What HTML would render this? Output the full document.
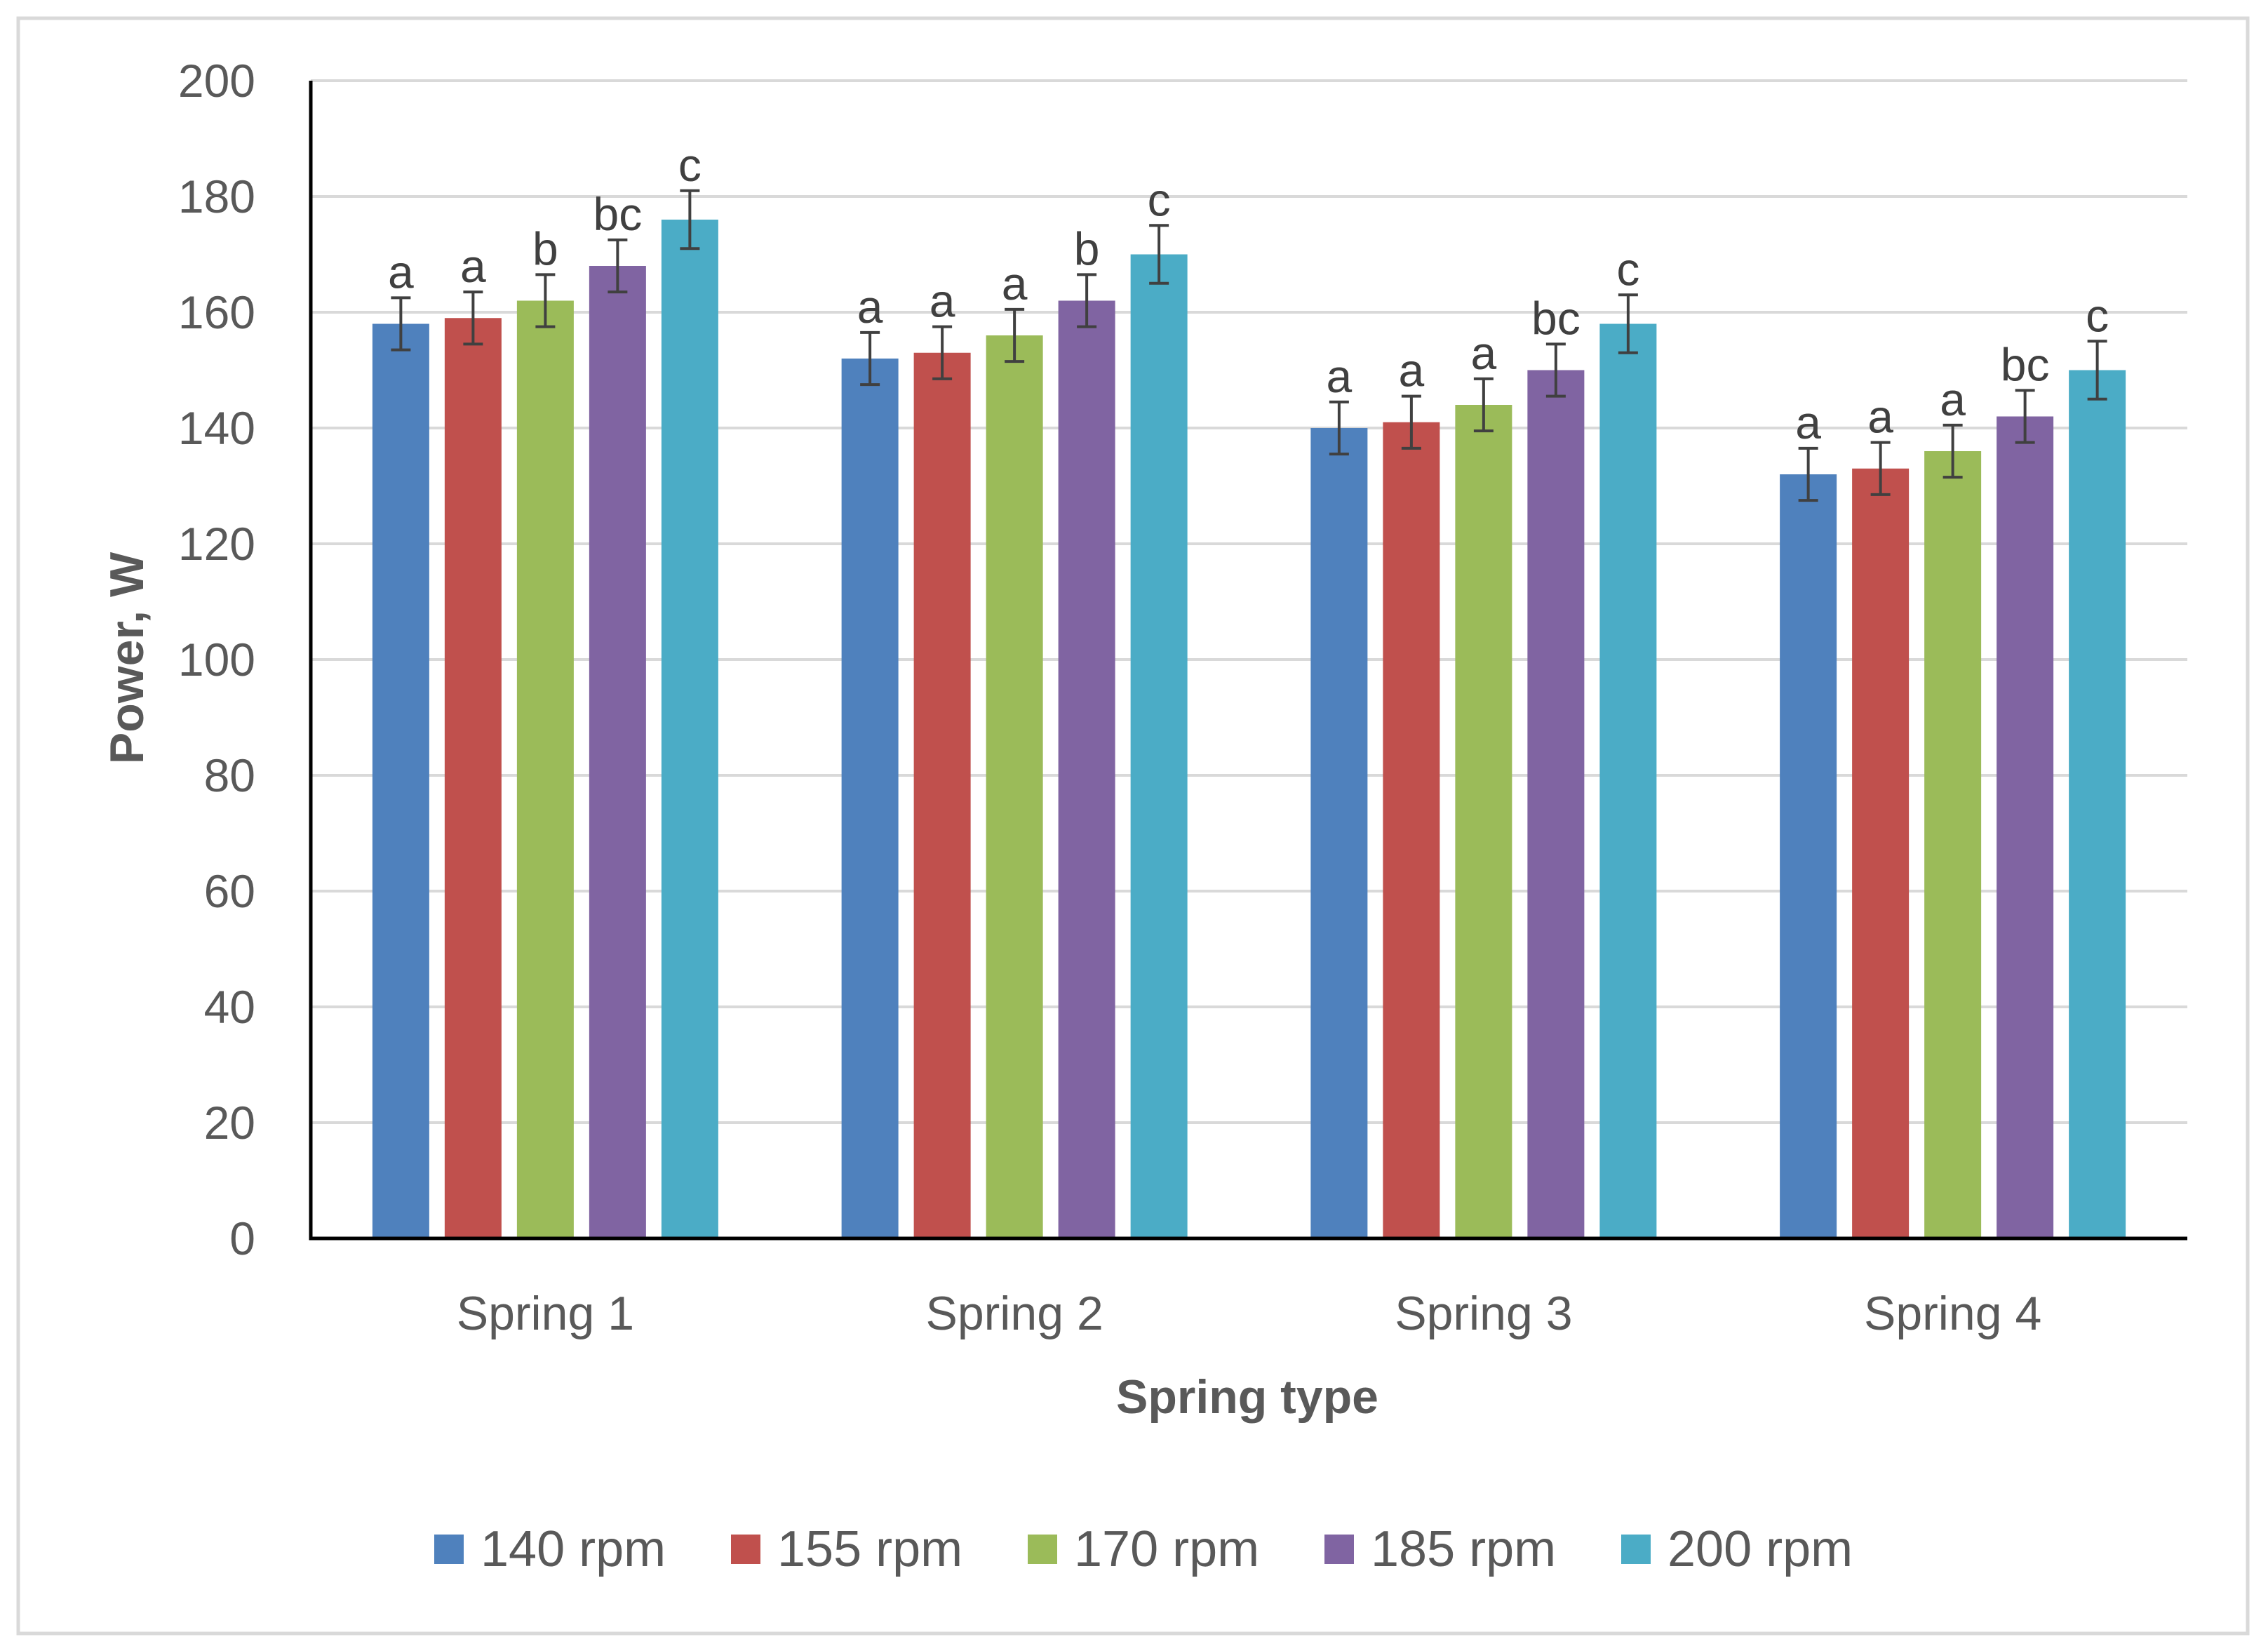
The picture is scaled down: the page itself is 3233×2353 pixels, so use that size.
<!DOCTYPE html>
<html><head><meta charset="utf-8"><style>
html,body{margin:0;padding:0;background:#fff;}
svg{display:block;font-family:"Liberation Sans",sans-serif;}
</style></head><body>
<svg id="chart" width="3233" height="2353" viewBox="0 0 3233 2353" xmlns="http://www.w3.org/2000/svg">
<rect x="26" y="26" width="3178" height="2302" fill="#fff" stroke="#d9d9d9" stroke-width="5"/>
<g id="grid"></g>
<g id="bars"></g>
<g id="axes"></g>
<g id="legend"></g>
</svg>
<script>
const categories = ["Spring 1","Spring 2","Spring 3","Spring 4"];
const seriesNames = ["140 rpm","155 rpm","170 rpm","185 rpm","200 rpm"];
const seriesColors = ["#4F81BD","#C0504D","#9BBB59","#8064A2","#4BACC6"];
const s140 = [158,152,140,132];
const s155 = [159,153,141,133];
const s170 = [162,156,144,136];
const s185 = [168,162,150,142];
const s200 = [176,170,158,150];
const errors = [4.5,4.5,4.5,4.5,5];
const letters1 = ["a","a","a","a"];
const letters2 = ["a","a","a","a"];
const letters3 = ["b","a","a","a"];
const letters4 = ["bc","b","bc","bc"];
const letters5 = ["c","c","c","c"];
const yTicks = [0,20,40,60,80,100,120,140,160,180,200];

const series = [s140,s155,s170,s185,s200];
const letters = [letters1,letters2,letters3,letters4,letters5];
const NS = "http://www.w3.org/2000/svg";
const plotL = 443, plotR = 3118, plotT = 115, plotB = 1765;
const yMin = 0, yMax = 200;
function y(v){ return plotB - (v - yMin) / (yMax - yMin) * (plotB - plotT); }
const groupW = (plotR - plotL) / categories.length;
function groupCenter(i){ return plotL + groupW * (i + 0.5); }
const barStep = 103, barW = 81;
function barX(ci, si){ return groupCenter(ci) + (si - (series.length - 1) / 2) * barStep - barW / 2; }
function mk(tag, attrs, parent){ const e = document.createElementNS(NS, tag); for (const k in attrs) e.setAttribute(k, attrs[k]); parent.appendChild(e); return e; }

const grid = document.getElementById('grid');
const axes = document.getElementById('axes');
yTicks.forEach(t => {
  if (t > 0) {
    const l = mk('line', {x1: plotL, x2: plotR, y1: y(t), y2: y(t), stroke: '#d9d9d9', 'stroke-width': 4}, grid);
    
    
  }
  const tx = mk('text', {x: 364, y: y(t) + 23, 'text-anchor': 'end', 'font-size': 66, fill: '#595959'}, axes);
  tx.textContent = t;
  
  
});

const bars = document.getElementById('bars');
categories.forEach((c, ci) => {
  series.forEach((s, si) => {
    const v = s[ci];
    const x = barX(ci, si);
    const r = mk('rect', {x: x, y: y(v), width: barW, height: y(0) - y(v), fill: seriesColors[si]}, bars);
    
    
    const cx = x + barW / 2, e = errors[si];
    const g = mk('g', {stroke: '#404040', 'stroke-width': 4}, bars);
    
    
    mk('line', {x1: cx, x2: cx, y1: y(v + e), y2: y(v - e)}, g);
    mk('line', {x1: cx - 14, x2: cx + 14, y1: y(v + e), y2: y(v + e)}, g);
    mk('line', {x1: cx - 14, x2: cx + 14, y1: y(v - e), y2: y(v - e)}, g);
    const lt = mk('text', {x: cx, y: y(v + e) - 14, 'text-anchor': 'middle', 'font-size': 66, fill: '#404040'}, bars);
    lt.textContent = letters[si][ci];
    
    
  });
  const cl = mk('text', {x: groupCenter(ci), y: 1895, 'text-anchor': 'middle', 'font-size': 68, fill: '#595959'}, axes);
  cl.textContent = c;
  
  
});

const ax = mk('path', {d: `M${plotL},${plotT} V${plotB} H${plotR}`, fill: 'none', stroke: '#000', 'stroke-width': 5}, axes);



const yt = mk('text', {x: 0, y: 0, 'text-anchor': 'middle', 'font-size': 68, 'font-weight': 'bold', fill: '#595959', transform: 'translate(204,938) rotate(-90)'}, axes);
yt.textContent = 'Power, W';


const xt = mk('text', {x: 1778, y: 2014, 'text-anchor': 'middle', 'font-size': 68, 'font-weight': 'bold', fill: '#595959'}, axes);
xt.textContent = 'Spring type';



const legend = document.getElementById('legend');
seriesNames.forEach((n, i) => {
  const lx = 619 + i * 423;
  const g = mk('g', {}, legend);
  
  
  mk('rect', {x: lx, y: 2187, width: 42, height: 42, fill: seriesColors[i]}, g);
  const t = mk('text', {x: lx + 66, y: 2232, 'font-size': 72, fill: '#595959'}, g);
  t.textContent = n;
});
</script>
</body></html>
